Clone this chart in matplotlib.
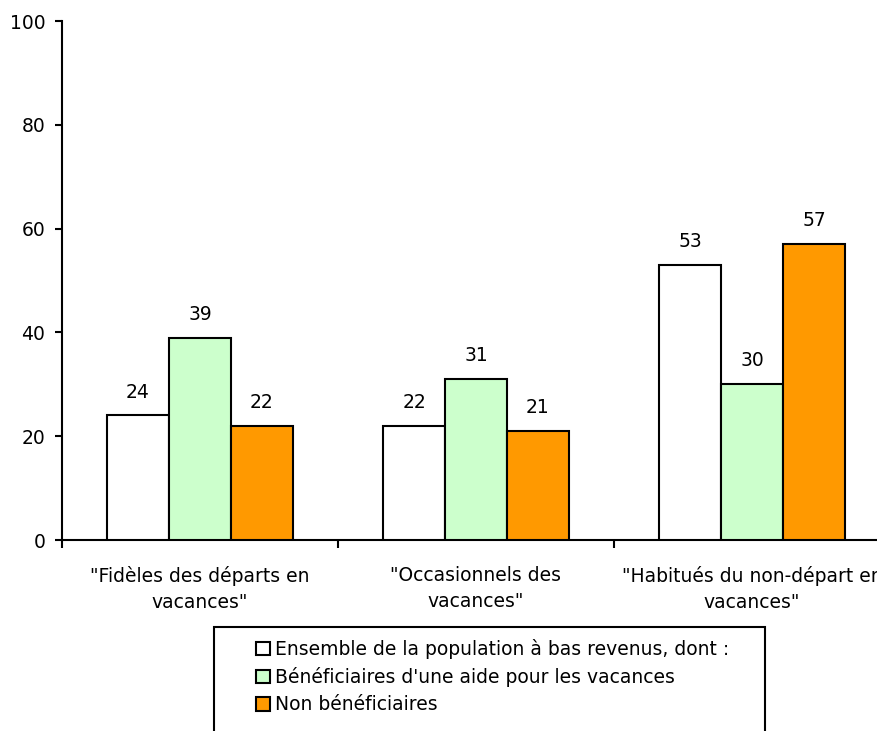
import numpy as np
import matplotlib.pyplot as plt
from matplotlib.patches import Rectangle

plt.rcParams['font.family'] = ['DejaVu Sans']

# Data
categories = ['"Fidèles des départs en\nvacances"',
              '"Occasionnels des\nvacances"',
              '"Habitués du non-départ en\nvacances"']
series_names = ['Ensemble de la population à bas revenus, dont :',
                "Bénéficiaires d'une aide pour les vacances",
                'Non bénéficiaires']
ensemble = [24, 22, 53]
beneficiaires = [39, 31, 30]
non_beneficiaires = [22, 21, 57]

colors = ['#FFFFFF', '#CCFFCC', '#FF9900']
fs = 13.5

fig = plt.figure(figsize=(8.78, 7.31), dpi=100)
ax = fig.add_axes([62 / 878, 1 - 540 / 731, 828 / 878, 519 / 731])

x = np.arange(len(categories))
width = 0.2246
series = [ensemble, beneficiaires, non_beneficiaires]
for i, (vals, name, col) in enumerate(zip(series, series_names, colors)):
    bars = ax.bar(x + (i - 1) * width, vals, width, color=col, edgecolor='black',
                  linewidth=1.5, label=name, zorder=3)
    for b, v in zip(bars, vals):
        ax.annotate(str(v), (b.get_x() + b.get_width() / 2, v),
                    xytext=(0, 10), textcoords='offset points',
                    ha='center', va='bottom', fontsize=fs)

ax.set_xlim(-0.5, 2.5)
ax.set_ylim(0, 100)
ax.set_yticks([0, 20, 40, 60, 80, 100])
ax.set_xticks(x)
ax.set_xticklabels(categories, fontsize=fs, linespacing=1.42)
ax.set_xticks([-0.5, 0.5, 1.5, 2.5], minor=True)
ax.tick_params(axis='x', which='major', length=0, pad=19)
ax.tick_params(axis='x', which='minor', length=6, width=1.5, direction='out')
ax.tick_params(axis='y', length=5, width=1.5, direction='out', pad=7, labelsize=fs)

for s in ['top', 'right']:
    ax.spines[s].set_visible(False)
for s in ['left', 'bottom']:
    ax.spines[s].set_linewidth(1.5)

# Legend
leg = fig.legend(loc='upper left', bbox_to_anchor=(247 / 878, 1 - 630 / 731),
                 frameon=False, fontsize=fs, handlelength=0.7, handleheight=0.7,
                 handletextpad=0.3, labelspacing=0.43, borderpad=0)
for h in leg.legend_handles:
    h.set_linewidth(1.5)
fig.patches.append(Rectangle((214 / 878, -0.05), (765 - 214) / 878, 0.05 + 1 - 627 / 731,
                             transform=fig.transFigure, fill=False,
                             edgecolor='black', linewidth=1.5))

fig.savefig('out.png', dpi=100)
